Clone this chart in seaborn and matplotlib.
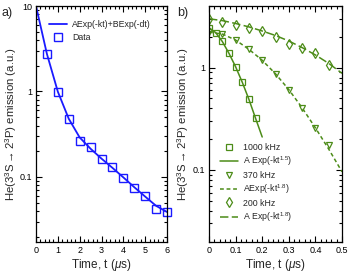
import numpy as np
import pandas as pd
import matplotlib
matplotlib.use("Agg")
import matplotlib.pyplot as plt
import seaborn as sns
from matplotlib.ticker import LogLocator, MultipleLocator, FuncFormatter, NullFormatter
from matplotlib.lines import Line2D

# ---------------- data ----------------
# panel a
t_a = [0.5, 1.0, 1.5, 2.0, 2.5, 3.0, 3.5, 4.0, 4.5, 5.0, 5.5, 6.0]
y_a = [2.75, 0.995, 0.48, 0.264, 0.224, 0.164, 0.132, 0.098, 0.074, 0.060, 0.0427, 0.039]
fit_t_a = [0.0, 0.5, 1.0, 1.5, 2.0, 2.5, 3.0, 3.5, 4.0, 4.5, 5.0, 5.5, 6.0]
fit_y_a = [10.0, 2.75, 0.995, 0.48, 0.29, 0.214, 0.164, 0.128, 0.099, 0.076, 0.059, 0.046, 0.039]

# panel b
t_1000 = [0.0, 0.025, 0.05, 0.075, 0.1, 0.125, 0.15, 0.175]
y_1000 = [2.45, 2.2, 1.8, 1.38, 1.02, 0.72, 0.49, 0.32]
fit_t_1000 = [0.0, 0.025, 0.05, 0.075, 0.1, 0.125, 0.15, 0.175, 0.2]
fit_y_1000 = [2.45, 2.2, 1.8, 1.38, 1.02, 0.72, 0.49, 0.32, 0.21]

t_370 = [0.0, 0.05, 0.1, 0.15, 0.2, 0.25, 0.3, 0.35, 0.4, 0.45]
y_370 = [2.25, 2.13, 1.86, 1.51, 1.18, 0.87, 0.61, 0.405, 0.258, 0.177]
fit_t_370 = [0.0, 0.05, 0.1, 0.15, 0.2, 0.25, 0.3, 0.35, 0.4, 0.45, 0.5]
fit_y_370 = [2.22, 2.13, 1.86, 1.51, 1.18, 0.87, 0.61, 0.405, 0.258, 0.16, 0.096]

t_200 = [0.0, 0.05, 0.1, 0.15, 0.2, 0.25, 0.3, 0.35, 0.4, 0.45]
y_200 = [3.0, 2.76, 2.6, 2.43, 2.28, 2.0, 1.72, 1.55, 1.38, 1.07]
fit_t_200 = [0.0, 0.05, 0.1, 0.15, 0.2, 0.25, 0.3, 0.35, 0.4, 0.45, 0.5]
fit_y_200 = [3.0, 2.88, 2.7, 2.5, 2.28, 2.06, 1.82, 1.57, 1.33, 1.1, 0.88]

legend_a = ["AExp(-kt)+BExp(-dt)", "Data"]
legend_b = ["1000 kHz", "A Exp(-kt$^{1.5}$)", "370 kHz", "AExp(-kt$^{1.8}$)",
            "200 kHz", "A Exp(-kt$^{1.8}$)"]

# ---------------- style ----------------
sns.set_style("ticks")
plt.rcParams['font.family'] = ['Liberation Sans', 'DejaVu Sans']
plt.rcParams['mathtext.fontset'] = 'custom'
plt.rcParams['mathtext.rm'] = 'Liberation Sans'
plt.rcParams['mathtext.it'] = 'Liberation Sans:italic'
plt.rcParams['mathtext.bf'] = 'Liberation Sans:bold'

BLUE = "#1a1aff"
GREEN = "#4c8c18"

fig = plt.figure(figsize=(3.5, 2.72), dpi=100)
axa = fig.add_axes([36/350, 1 - 241.5/272, 131/350, 235.5/272])
axb = fig.add_axes([209/350, 1 - 241.5/272, 133/350, 235.5/272])

def fmt(v, pos):
    if v >= 1:
        return "%d" % v
    return ("%g" % v)

for ax in (axa, axb):
    ax.set_yscale("log")
    ax.tick_params(which="both", direction="in", top=True, right=True,
                   labelsize=6.5, width=0.8, colors="black", pad=3)
    ax.tick_params(which="major", length=4)
    ax.tick_params(which="minor", length=2)
    for s in ax.spines.values():
        s.set_linewidth(0.9)
        s.set_color("black")
    ax.yaxis.set_major_locator(LogLocator(base=10, numticks=10))
    ax.yaxis.set_minor_locator(LogLocator(base=10, subs=np.arange(2, 10), numticks=20))
    ax.yaxis.set_major_formatter(FuncFormatter(fmt))
    ax.yaxis.set_minor_formatter(NullFormatter())

ylab = "He(3$^{3}$S$\\rightarrow$2$^{3}$P) emission (a.u.)"
xlab = "Time, t ($\\mu$s)"

# ---------------- panel a ----------------
da = pd.DataFrame({"t": t_a, "y": y_a})
dfa = pd.DataFrame({"t": fit_t_a, "y": fit_y_a})
sns.lineplot(data=dfa, x="t", y="y", ax=axa, color=BLUE, lw=1.3, sort=False)
sns.lineplot(data=da, x="t", y="y", ax=axa, color=BLUE, lw=0, marker="s",
             markersize=5.5, markerfacecolor="none", markeredgecolor=BLUE,
             markeredgewidth=1.0, linestyle="", sort=False, clip_on=False)
axa.set_xlim(0, 6)
axa.set_ylim(0.0176, 10)
axa.xaxis.set_major_locator(MultipleLocator(1))
axa.xaxis.set_minor_locator(MultipleLocator(0.2))
axa.set_xlabel(xlab, fontsize=8.5, labelpad=2)
axa.set_ylabel(ylab, fontsize=8.2)
axa.yaxis.set_label_coords(-17/131, 0.5)
ha = [Line2D([], [], color=BLUE, lw=1.3),
      Line2D([], [], color=BLUE, lw=0, marker="s", markersize=5.5,
             markerfacecolor="none", markeredgecolor=BLUE, markeredgewidth=1.0)]
axa.legend(ha, legend_a, loc="upper left", bbox_to_anchor=(0.07, 0.955), frameon=False,
           fontsize=6.3, handlelength=2.1, handletextpad=0.6, labelspacing=0.45,
           borderaxespad=0)
fig.text(2/350, 1 - 13/272, "a)", fontsize=9, va="center", ha="left")

# ---------------- panel b ----------------
mk = dict(markersize=5, markerfacecolor="none", markeredgecolor=GREEN,
          markeredgewidth=0.9, linestyle="", lw=0, color=GREEN, sort=False)
sns.lineplot(x=fit_t_1000, y=fit_y_1000, ax=axb, color=GREEN, lw=1.1, sort=False)
sns.lineplot(x=fit_t_370, y=fit_y_370, ax=axb, color=GREEN, lw=1.1, sort=False,
             dashes=False, linestyle=(0, (2.5, 1.8)))
sns.lineplot(x=fit_t_200, y=fit_y_200, ax=axb, color=GREEN, lw=1.1, sort=False,
             dashes=False, linestyle=(0, (5.5, 2.2)))
sns.lineplot(x=t_1000, y=y_1000, ax=axb, marker="s", **mk)
sns.lineplot(x=t_370, y=y_370, ax=axb, marker="v", **mk)
sns.lineplot(x=t_200, y=y_200, ax=axb, marker="d", **mk)
axb.set_xlim(0, 0.5)
axb.set_ylim(0.02, 4)
axb.xaxis.set_major_locator(MultipleLocator(0.1))
axb.xaxis.set_minor_locator(MultipleLocator(0.02))
axb.xaxis.set_major_formatter(FuncFormatter(lambda v, p: "0" if abs(v) < 1e-9 else "%g" % v))
axb.set_xlabel(xlab, fontsize=8.5, labelpad=2)
axb.set_ylabel(ylab, fontsize=8.2)
axb.yaxis.set_label_coords(-18/133, 0.5)

def mh(m):
    return Line2D([], [], lw=0, marker=m, markersize=5, markerfacecolor="none",
                  markeredgecolor=GREEN, markeredgewidth=0.9)
hb = [mh("s"), Line2D([], [], color=GREEN, lw=1.1),
      mh("v"), Line2D([], [], color=GREEN, lw=1.1, linestyle=(0, (2.5, 1.8))),
      mh("d"), Line2D([], [], color=GREEN, lw=1.1, linestyle=(0, (5.5, 2.2)))]
axb.legend(hb, legend_b, loc="lower left", bbox_to_anchor=(0.06, 0.06), frameon=False,
           fontsize=6.3, handlelength=2.0, handletextpad=0.6, labelspacing=0.3,
           borderaxespad=0)
fig.text(177/350, 1 - 13/272, "b)", fontsize=9, va="center", ha="left")

fig.savefig("out.png", dpi=100)
